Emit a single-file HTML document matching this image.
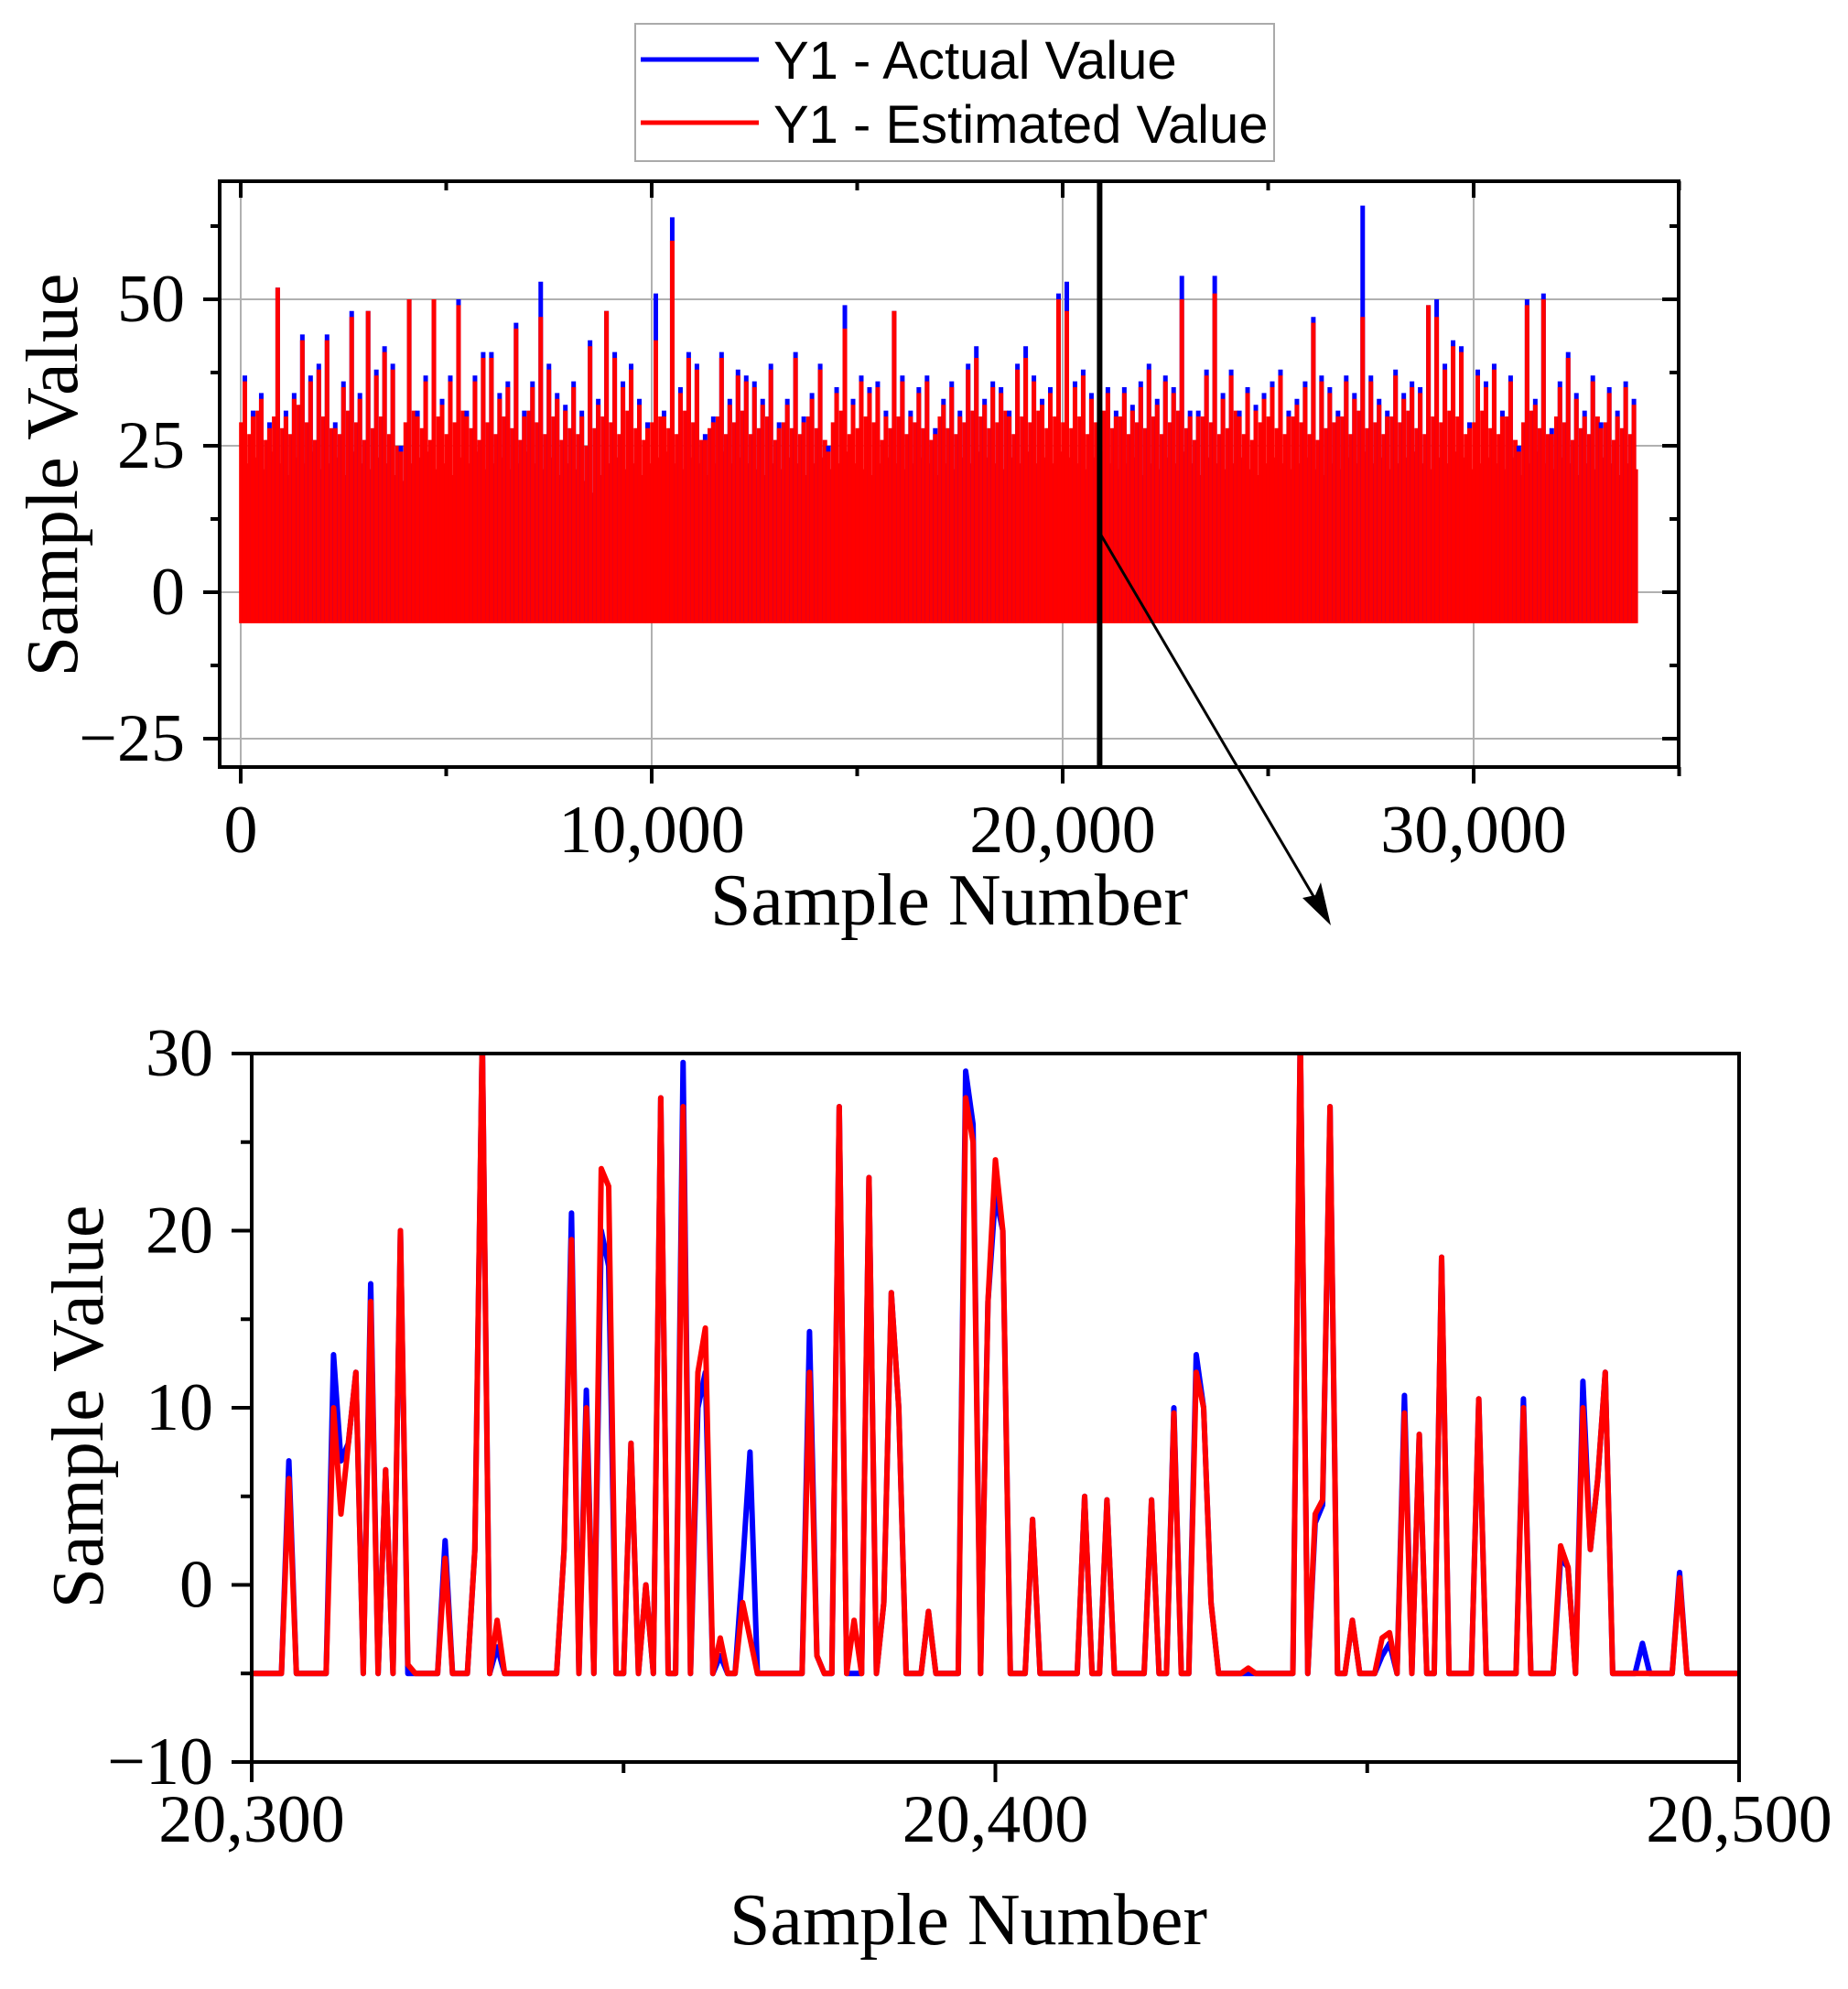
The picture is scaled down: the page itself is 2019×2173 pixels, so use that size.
<!DOCTYPE html>
<html><head><meta charset="utf-8"><style>
html,body{margin:0;padding:0;background:#fff;}
svg{display:block;}
.tk{font-family:"Liberation Serif",serif;font-size:74px;fill:#000;}
.ttl{font-family:"Liberation Serif",serif;font-size:80px;fill:#000;}
.lg{font-family:"Liberation Sans",sans-serif;font-size:58px;fill:#000;}
</style></head><body>
<svg id="chart" width="2019" height="2173" viewBox="0 0 2019 2173" xmlns="http://www.w3.org/2000/svg">
<g id="topchart"></g>
<g id="botchart"></g>
<g>
<rect x="694" y="26" width="698" height="150" fill="#fff" stroke="#aaa" stroke-width="2"/>
<line x1="700" y1="65" x2="829" y2="65" stroke="#0000ff" stroke-width="5"/>
<text x="845" y="86" class="lg">Y1 - Actual Value</text>
<line x1="700" y1="134" x2="829" y2="134" stroke="#ff0000" stroke-width="5"/>
<text x="845" y="156" class="lg">Y1 - Estimated Value</text>
</g>
</svg>
<script>
// ---- overview data (per 200-sample bin maxima) ----
const topBinSize = 200;
const topRedMax = [36,30,33,28,52,30,33,43,36,38,43,28,35,47,33,48,37,41,38,24,50,30,36,50,32,36,49,30,36,40,40,33,35,45,30,35,47,38,33,31,35,30,42,32,48,40,35,38,32,28,43,30,60,34,40,38,26,29,40,32,37,36,35,32,38,28,32,40,29,33,38,24,34,45,32,36,34,35,30,48,36,30,34,36,27,32,35,30,38,40,32,35,34,30,38,40,36,32,34,50,48,35,37,33,36,34,30,34,31,35,38,32,36,34,50,30,30,37,51,33,37,30,34,31,33,35,37,30,32,35,46,36,34,30,36,33,47,36,32,30,37,33,35,34,49,47,38,42,41,28,37,35,38,30,36,24,49,32,50,27,35,40,33,30,36,28,34,30,35,32];
const topBlueMax = [37,31,34,29,52,31,34,44,37,39,44,29,36,48,34,48,38,42,39,25,50,31,37,50,33,37,50,31,37,41,41,34,36,46,31,36,53,39,34,32,36,31,43,33,48,41,36,39,33,29,51,31,64,35,41,39,27,30,41,33,38,37,36,33,39,29,33,41,30,34,39,25,35,49,33,37,35,36,31,48,37,31,35,37,28,33,36,31,39,42,33,36,35,31,39,42,37,33,35,51,53,36,38,34,37,35,31,35,32,36,39,33,37,35,54,31,31,38,54,34,38,31,35,32,34,36,38,31,33,36,47,37,35,31,37,34,66,37,33,31,38,34,36,35,49,50,39,43,42,29,38,36,39,31,37,25,50,33,51,28,36,41,34,31,37,29,35,31,36,33];
const topRedMid = [29,27,31,26,30,28,27,32,29,26,30,28,27,31,29,26,28,30,27,25,29,31,28,26,30,27,29,31,28,26,29,27,30,28,26,31,29,27,30,26,28,27,25,28,30,29,27,31,28,26,29,30,28,27,31,29,26,28,30,27,29,31,27,28,30,26,29,28,27,30,28,26,29,31,27,28,30,29,26,28,30,27,29,28,26,30,28,27,29,31,30,28,29,31,27,30,29,31,28,30,29,28,30,27,29,31,28,30,27,29,28,30,27,29,31,28,26,30,29,27,28,31,27,26,29,30,28,27,30,29,27,26,28,29,30,27,31,28,29,27,30,29,31,28,27,30,29,31,30,27,29,31,28,27,30,26,29,31,28,27,30,29,26,28,27,30,29,26,28,27];
const topFloor = [22,23,21,24,22,20,23,22,24,21,22,23,20,24,22,21,23,22,20,19,22,23,24,21,22,20,23,22,24,21,22,23,21,22,24,22,21,23,20,22,21,19,17,20,22,23,21,22,20,22,23,24,22,21,23,22,20,22,24,22,23,22,21,20,22,21,23,22,20,22,23,21,22,24,22,21,20,22,23,22,21,22,23,22,20,22,21,23,22,24,23,22,21,23,22,24,22,23,22,24,23,22,21,23,24,22,21,22,23,20,22,21,23,22,24,22,20,23,22,21,22,23,21,20,22,23,22,21,22,23,21,20,22,21,23,22,24,22,23,21,22,23,24,22,21,23,22,24,23,21,22,23,22,21,23,20,22,24,22,21,23,22,20,22,21,23,22,20,22,21];
const topXTicks = [0,10000,20000,30000];
const topXTickLabels = ["0","10,000","20,000","30,000"];
const topYTicks = [-25,0,25,50];
const topYTickLabels = ["\u221225","0","25","50"];
const topMarker = 20900;

// ---- zoom data (samples 20300..20500) ----
const botStart = 20300;
const botRed = [-5,-5,-5,-5,-5,6,-5,-5,-5,-5,-5,10,4,8,12,-5,16,-5,6.5,-5,20,-4.5,-5,-5,-5,-5,1.5,-5,-5,-5,2,31,-5,-2,-5,-5,-5,-5,-5,-5,-5,-5,2,19.5,-5,10,-5,23.5,22.5,-5,-5,8,-5,0,-5,27.5,-5,-5,27,-5,12,14.5,-5,-3,-5,-5,-1,-3,-5,-5,-5,-5,-5,-5,-5,12,-4,-5,-5,27,-5,-2,-5,23,-5,-1,16.5,10,-5,-5,-5,-1.5,-5,-5,-5,-5,27.5,25,-5,16,24,20,-5,-5,-5,3.7,-5,-5,-5,-5,-5,-5,5,-5,-5,4.8,-5,-5,-5,-5,-5,4.8,-5,-5,9.7,-5,-5,12,10,-1,-5,-5,-5,-5,-4.7,-5,-5,-5,-5,-5,-5,31,-5,4,4.8,27,-5,-5,-2,-5,-5,-5,-3,-2.7,-5,9.7,-5,8.5,-5,-5,18.5,-5,-5,-5,-5,10.5,-5,-5,-5,-5,-5,10,-5,-5,-5,-5,2.2,1,-5,10,2,6,12,-5,-5,-5,-5,-5,-5,-5,-5,-5,0.4,-5,-5,-5,-5,-5,-5,-5,-5];
const botBlue = [-5,-5,-5,-5,-5,7,-5,-5,-5,-5,-5,13,7,8,12,-5,17,-5,6.5,-5,20,-5,-5,-5,-5,-5,2.5,-5,-5,-5,2,31,-5,-3.5,-5,-5,-5,-5,-5,-5,-5,-5,2,21,-5,11,-5,20,18,-5,-5,8,-5,0,-5,27.5,-5,-5,29.5,-5,10,12,-5,-4,-5,-5,1,7.5,-5,-5,-5,-5,-5,-5,-5,14.3,-4,-5,-5,27,-5,-5,-5,23,-5,-1,16.5,10,-5,-5,-5,-1.5,-5,-5,-5,-5,29,26,-5,16,22,20,-5,-5,-5,3.7,-5,-5,-5,-5,-5,-5,5,-5,-5,4.8,-5,-5,-5,-5,-5,4.8,-5,-5,10,-5,-5,13,10,-1,-5,-5,-5,-5,-5,-5,-5,-5,-5,-5,-5,31,-5,3.5,4.5,27,-5,-5,-2,-5,-5,-5,-4,-3.3,-5,10.7,-5,8.5,-5,-5,18.5,-5,-5,-5,-5,10.5,-5,-5,-5,-5,-5,10.5,-5,-5,-5,-5,1.5,1,-5,11.5,2,6,12,-5,-5,-5,-5,-3.3,-5,-5,-5,-5,0.7,-5,-5,-5,-5,-5,-5,-5,-5];
const botXTicks = [20300,20400,20500];
const botXTickLabels = ["20,300","20,400","20,500"];
const botYTicks = [-10,0,10,20,30];
const botYTickLabels = ["\u221210","0","10","20","30"];

const NS = "http://www.w3.org/2000/svg";
function mk(parent, tag, attrs){const e=document.createElementNS(NS,tag);for(const k in attrs)e.setAttribute(k,attrs[k]);parent.appendChild(e);return e;}

// ---------- TOP ----------
const T = {x0:240,x1:1834,y0:198,y1:838};
const xT = s => 263 + s*0.0449;
const yT = v => 647 - v*6.4;
const topG = document.getElementById('topchart');
topXTicks.forEach(t=>{const g=mk(topG,'line',{x1:xT(t),x2:xT(t),y1:T.y0,y2:T.y1,stroke:'#b0b0b0','stroke-width':2});

});
topYTicks.forEach(t=>{const g=mk(topG,'line',{x1:T.x0,x2:T.x1,y1:yT(t),y2:yT(t),stroke:'#b0b0b0','stroke-width':2});

});
let fp = `M${xT(0)},${yT(-5.3)}`;
topFloor.forEach((v,i)=>{fp+=` L${xT(i*topBinSize)},${yT(v)} L${xT((i+1)*topBinSize)},${yT(v)}`;});
fp += ` L${xT(topFloor.length*topBinSize)},${yT(-5.3)} Z`;
const fl = mk(topG,'path',{d:fp,fill:'#ff0000'});


topRedMid.forEach((v,i)=>{const x=xT(i*topBinSize+15);const l=mk(topG,'line',{x1:x,x2:x,y1:yT(-5.3),y2:yT(v),stroke:'#ff0000','stroke-width':5});

});
topBlueMax.forEach((v,i)=>{const x=xT(i*topBinSize+100);const l=mk(topG,'line',{x1:x,x2:x,y1:yT(-5),y2:yT(v),stroke:'#0000ff','stroke-width':5});

});
topRedMax.forEach((v,i)=>{const x=xT(i*topBinSize+100);const l=mk(topG,'line',{x1:x,x2:x,y1:yT(-5.3),y2:yT(v),stroke:'#ff0000','stroke-width':5});

});
const tf = mk(topG,'rect',{x:T.x0,y:T.y0,width:T.x1-T.x0,height:T.y1-T.y0,fill:'none',stroke:'#000','stroke-width':4});


for(let s=0;s<=35000;s+=5000){const maj=s%10000===0;const len=maj?18:10;
mk(topG,'line',{x1:xT(s),x2:xT(s),y1:T.y1,y2:T.y1+len,stroke:'#000','stroke-width':4});
mk(topG,'line',{x1:xT(s),x2:xT(s),y1:T.y0,y2:T.y0+len,stroke:'#000','stroke-width':4});}
for(let v=-25;v<=62.5;v+=12.5){const maj=v%25===0;const len=maj?18:10;
mk(topG,'line',{x1:T.x0-len,x2:T.x0,y1:yT(v),y2:yT(v),stroke:'#000','stroke-width':4});
mk(topG,'line',{x1:T.x1-len,x2:T.x1,y1:yT(v),y2:yT(v),stroke:'#000','stroke-width':4});}
topXTicks.forEach((t,i)=>{const tx=mk(topG,'text',{x:xT(t),y:931,'text-anchor':'middle',class:'tk'});tx.textContent=topXTickLabels[i];

});
topYTicks.forEach((t,i)=>{const tx=mk(topG,'text',{x:202,y:yT(t)+24,'text-anchor':'end',class:'tk'});tx.textContent=topYTickLabels[i];

});
const txt1 = mk(topG,'text',{x:1037,y:1010,'text-anchor':'middle',class:'ttl'});txt1.textContent='Sample Number';


const tyt = mk(topG,'text',{x:0,y:0,'text-anchor':'middle',class:'ttl',transform:'translate(84,519) rotate(-90)'});tyt.textContent='Sample Value';


const mx = xT(topMarker);
const ml = mk(topG,'line',{x1:mx,x2:mx,y1:T.y0,y2:T.y1,stroke:'#000','stroke-width':6});


const ar = mk(topG,'line',{x1:mx,y1:582,x2:1449,y2:1003,stroke:'#000','stroke-width':3});


const ah = mk(topG,'path',{d:'M1454,1011 L1423,981 L1437,978 L1443,964 Z',fill:'#000'});



// ---------- BOTTOM ----------
const B = {x0:275,x1:1900,y0:1151,y1:1925};
const xB = s => B.x0 + (s-20300)*(B.x1-B.x0)/200;
const yB = v => B.y1 - (v+10)*(B.y1-B.y0)/40;
const botG = document.getElementById('botchart');
const cp = mk(botG,'clipPath',{id:'bclip'});mk(cp,'rect',{x:B.x0,y:B.y0,width:B.x1-B.x0,height:B.y1-B.y0});
function series(arr,color,name){let d='';arr.forEach((v,i)=>{d+=(i?' L':'M')+xB(botStart+i).toFixed(1)+','+yB(v).toFixed(1);});
const p=mk(botG,'path',{d:d,fill:'none',stroke:color,'stroke-width':6,'stroke-linejoin':'round','clip-path':'url(#bclip)'});

}
series(botBlue,'#0000ff','actual-value-line');
series(botRed,'#ff0000','estimated-value-line');
const bf = mk(botG,'rect',{x:B.x0,y:B.y0,width:B.x1-B.x0,height:B.y1-B.y0,fill:'none',stroke:'#000','stroke-width':4});


for(let s=20300;s<=20500;s+=50){const maj=s%100===0;mk(botG,'line',{x1:xB(s),x2:xB(s),y1:B.y1,y2:B.y1+(maj?22:12),stroke:'#000','stroke-width':4});}
for(let v=-10;v<=30;v+=5){const maj=v%10===0;mk(botG,'line',{x1:B.x0-(maj?22:12),x2:B.x0,y1:yB(v),y2:yB(v),stroke:'#000','stroke-width':4});}
botXTicks.forEach((t,i)=>{const tx=mk(botG,'text',{x:xB(t),y:2012,'text-anchor':'middle',class:'tk'});tx.textContent=botXTickLabels[i];

});
botYTicks.forEach((t,i)=>{const tx=mk(botG,'text',{x:233,y:yB(t)+24,'text-anchor':'end',class:'tk'});tx.textContent=botYTickLabels[i];

});
const bx = mk(botG,'text',{x:1058,y:2124,'text-anchor':'middle',class:'ttl'});bx.textContent='Sample Number';


const by = mk(botG,'text',{x:0,y:0,'text-anchor':'middle',class:'ttl',transform:'translate(112,1537) rotate(-90)'});by.textContent='Sample Value';


</script>
</body></html>
